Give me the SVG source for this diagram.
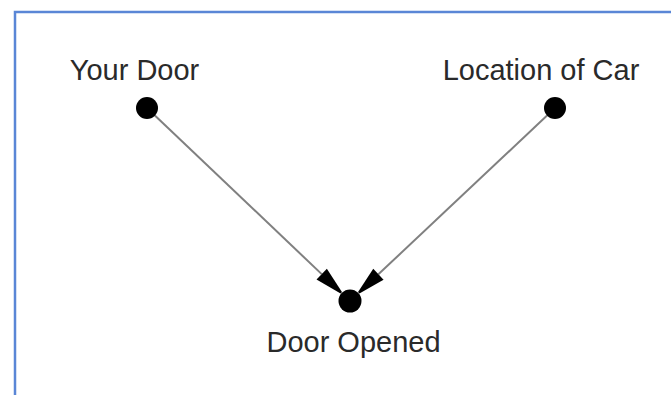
<svg xmlns="http://www.w3.org/2000/svg" width="671" height="395" viewBox="0 0 671 395">
  <style>
    .lbl { font-family: "Liberation Sans", Arial, sans-serif; font-size: 29px; fill: #2a2a2a; text-anchor: middle; }
    .dot { fill: #000; }
    .edge { stroke: #808080; stroke-width: 2; fill: none; }
  </style>
  <defs>
    <marker id="arr" markerUnits="userSpaceOnUse" markerWidth="30" markerHeight="18" viewBox="0 -9 30 18" refX="0" refY="0" orient="auto" overflow="visible">
      <path d="M0,-7.5 L27,-1 L27,1 L0,7.5 Z" fill="#000"/>
    </marker>
  </defs>
  <rect width="671" height="395" fill="#fff"/>
  <path d="M15,395 L15,12 L671,12" fill="none" stroke="#5a86d6" stroke-width="2.5"/>
  <g id="connectors">
    <line class="edge" x1="147" y1="108" x2="321.7" y2="274.1" marker-end="url(#arr)"/>
    <line class="edge" x1="555" y1="108" x2="378.4" y2="274.3" marker-end="url(#arr)"/>
  </g>
  <g id="your-door">
    <circle class="dot" cx="147" cy="108" r="11"/>
    <text class="lbl" x="134.5" y="80">Your Door</text>
  </g>
  <g id="location-of-car">
    <circle class="dot" cx="555" cy="108" r="11"/>
    <text class="lbl" x="541" y="80">Location of Car</text>
  </g>
  <g id="door-opened">
    <circle class="dot" cx="350" cy="301" r="11.5"/>
    <text class="lbl" x="353.5" y="352">Door Opened</text>
  </g>
</svg>
